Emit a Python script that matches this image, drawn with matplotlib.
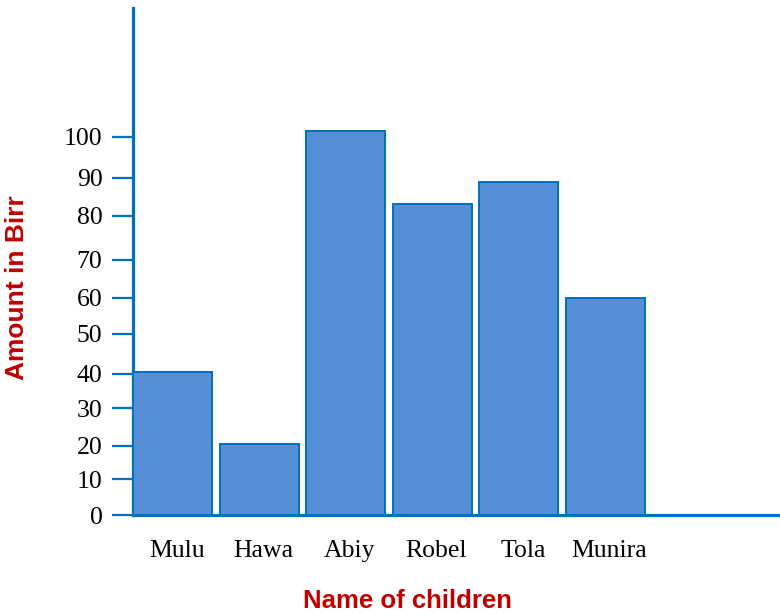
import matplotlib.pyplot as plt
import numpy as np

# pocket money of each child, in Birr
children = ['Mulu', 'Hawa', 'Abiy', 'Robel', 'Tola', 'Munira']
amount = [37.8, 18.8, 101.6, 82.3, 88.1, 57.4]

# hand-drawn scale: where each label sits on the axis
tick_pos = [0, 9.5, 18.3, 28.3, 37.3, 47.9, 57.4, 67.5, 79.1, 89.2, 100]
tick_labels = ['0', '10', '20', '30', '40', '50', '60', '70', '80', '90', '100']

blue = '#0070C0'
fill = '#558ED5'
red = '#C00000'

fig = plt.figure(figsize=(7.8, 6.14), dpi=100)
ax = fig.add_axes([0.1705, 0.1612, 0.8295, 0.8258])

x = np.arange(len(children))
ax.bar(x, amount, width=0.913, color=fill, edgecolor=blue, linewidth=1.4, zorder=3)

ax.set_xlim(-0.4566, 7.02)
ax.set_ylim(0, 134.1)

# only left and bottom axis lines
for side in ['top', 'right']:
    ax.spines[side].set_visible(False)
for side in ['left', 'bottom']:
    ax.spines[side].set_color(blue)
    ax.spines[side].set_linewidth(2.3)
    ax.spines[side].set_zorder(2)

ax.set_yticks(tick_pos)
ax.set_yticklabels(tick_labels, fontfamily='Liberation Serif', fontsize=18.5)
ax.tick_params(axis='y', direction='out', length=15, width=1.6, color=blue, pad=7)

ax.set_xticks(x + 0.05)
ax.set_xticklabels(children, fontfamily='Liberation Serif', fontsize=18.5)
ax.tick_params(axis='x', length=0, pad=18)

fig.text(0.523, 0.021, 'Name of children', color=red, fontsize=18.5,
         fontweight='bold', fontfamily='Liberation Sans', ha='center', va='center')
fig.text(0.022, 0.532, 'Amount in Birr', color=red, fontsize=19,
         fontweight='bold', fontfamily='Liberation Sans', ha='center', va='center',
         rotation=90)

fig.savefig('out.png', dpi=100)
